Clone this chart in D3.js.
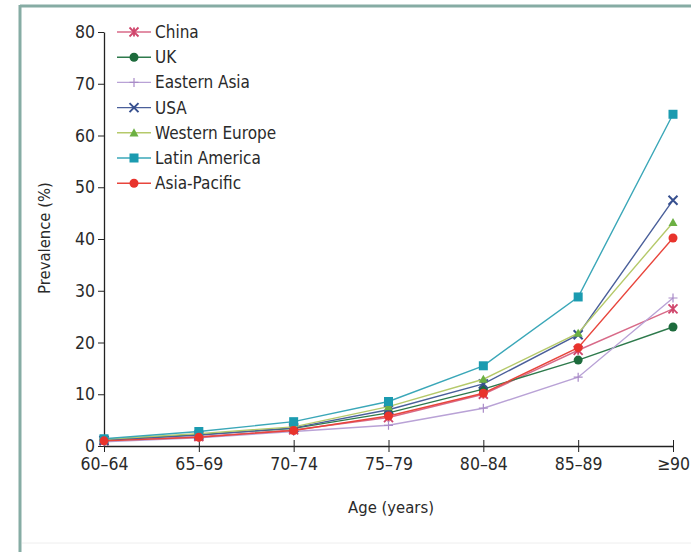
<!DOCTYPE html>
<html>
<head>
<meta charset="utf-8">
<script src="https://cdn.jsdelivr.net/npm/d3@7"></script>
<style>
  html, body { margin: 0; padding: 0; background: #fff; }
  svg { display: block; }
  text { font-family: "Liberation Sans Narrow", "DejaVu Sans Condensed", "Liberation Sans", sans-serif; fill: #2a2a2a; }
</style>
</head>
<body>
<svg id="chart" width="691" height="552"></svg>
<script>
// Age groups along the x axis
const ageGroups = ["60–64", "65–69", "70–74", "75–79", "80–84", "85–89", "≥90"];
const yTicks = [0, 10, 20, 30, 40, 50, 60, 70, 80];

// Dementia prevalence (%) by age group
const china         = [1.0, 1.8, 3.1, 5.5, 10.0, 18.5, 26.5];
const uk            = [1.2, 2.2, 3.4, 6.4, 11.0, 16.6, 23.0];
const easternAsia   = [0.8, 1.6, 2.8, 4.0, 7.3, 13.3, 28.6];
const usa           = [1.1, 2.1, 3.5, 7.0, 12.0, 21.5, 47.5];
const westernEurope = [1.3, 2.4, 3.7, 7.6, 12.9, 21.8, 43.2];
const latinAmerica  = [1.4, 2.8, 4.7, 8.6, 15.5, 28.8, 64.1];
const asiaPacific   = [1.0, 1.7, 3.0, 5.8, 10.2, 19.0, 40.2];

const seriesNames = ["China", "UK", "Eastern Asia", "USA", "Western Europe", "Latin America", "Asia-Pacific"];
const seriesValues = [china, uk, easternAsia, usa, westernEurope, latinAmerica, asiaPacific];
const seriesColors = ["#d0466c", "#1d6b3c", "#a98bc8", "#37508f", "#6cb043", "#1b9bb0", "#e8332c"];
const lineColors   = ["#d86a88", "#2e7a4c", "#b9a2d6", "#4a5f9a", "#b5c96a", "#3aa7b8", "#e8453c"];
const markerKinds  = ["asterisk", "circle", "plus", "cross", "triangle", "square", "circle"];

const svg = d3.select("#chart");

// outer frame
svg.append("line").attr("x1", 20).attr("x2", 20).attr("y1", 5).attr("y2", 552)
  .attr("stroke", "#86aca4").attr("stroke-width", 3);
svg.append("line").attr("x1", 20).attr("x2", 691).attr("y1", 6).attr("y2", 6)
  .attr("stroke", "#86aca4").attr("stroke-width", 3);
svg.append("line").attr("x1", 22).attr("x2", 691).attr("y1", 543).attr("y2", 543)
  .attr("stroke", "#eeeeee").attr("stroke-width", 1);

const x = d3.scalePoint().domain(ageGroups).range([104, 673]);
const y = d3.scaleLinear().domain([0, 80]).range([446, 32]);

// axes
const xAxis = d3.axisBottom(x).tickSizeInner(6).tickSizeOuter(0).tickPadding(6);
const gx = svg.append("g").attr("transform", "translate(0,446)").call(xAxis);
gx.select(".domain").attr("stroke", "#222").attr("stroke-width", 1.3);
gx.selectAll(".tick line").attr("stroke", "#222").attr("y1", -6).attr("y2", 6);
gx.selectAll("text").style("font-size", "17.5px").attr("fill", "#2a2a2a");

const yAxis = d3.axisLeft(y).tickValues(yTicks).tickSizeInner(6).tickSizeOuter(0).tickPadding(3);
const gy = svg.append("g").attr("transform", "translate(104,0)").call(yAxis);
gy.select(".domain").attr("stroke", "#222").attr("stroke-width", 1.3);
gy.selectAll(".tick line").attr("stroke", "#222");
gy.selectAll("text").style("font-size", "17.5px").attr("fill", "#2a2a2a");

// axis titles
svg.append("text").attr("x", 391).attr("y", 513).attr("text-anchor", "middle")
  .style("font-size", "16.5px").text("Age (years)");
svg.append("text").attr("transform", "translate(50,238) rotate(-90)")
  .attr("text-anchor", "middle").style("font-size", "16.5px").text("Prevalence (%)");

function drawMarker(g, kind, color, cx, cy) {
  const s = 4.5;
  if (kind === "circle") {
    g.append("circle").attr("cx", cx).attr("cy", cy).attr("r", s).attr("fill", color);
  } else if (kind === "square") {
    g.append("rect").attr("x", cx - s).attr("y", cy - s).attr("width", 2 * s).attr("height", 2 * s).attr("fill", color);
  } else if (kind === "triangle") {
    g.append("path").attr("d", `M${cx},${cy - s}L${cx + s},${cy + s * 0.8}L${cx - s},${cy + s * 0.8}Z`).attr("fill", color);
  } else if (kind === "plus") {
    g.append("path").attr("d", `M${cx - s},${cy}H${cx + s}M${cx},${cy - s}V${cy + s}`)
      .attr("stroke", color).attr("stroke-width", 1.2).attr("fill", "none");
  } else if (kind === "cross") {
    g.append("path").attr("d", `M${cx - s},${cy - s}L${cx + s},${cy + s}M${cx - s},${cy + s}L${cx + s},${cy - s}`)
      .attr("stroke", color).attr("stroke-width", 2).attr("fill", "none");
  } else if (kind === "asterisk") {
    g.append("path").attr("d", `M${cx - s},${cy - s}L${cx + s},${cy + s}M${cx - s},${cy + s}L${cx + s},${cy - s}M${cx},${cy - s}V${cy + s}`)
      .attr("stroke", color).attr("stroke-width", 1.8).attr("fill", "none");
  }
}

const line = d3.line().x((d, i) => x(ageGroups[i])).y(d => y(d));

seriesValues.forEach((vals, k) => {
  const g = svg.append("g");
  g.append("path").datum(vals).attr("d", line).attr("fill", "none")
    .attr("stroke", lineColors[k]).attr("stroke-width", 1.4);
  vals.forEach((v, i) => drawMarker(g, markerKinds[k], seriesColors[k], x(ageGroups[i]), y(v)));
});

// legend
const legend = svg.append("g");
seriesNames.forEach((name, k) => {
  const ly = 32 + k * 25.2;
  legend.append("line").attr("x1", 117).attr("x2", 151).attr("y1", ly).attr("y2", ly)
    .attr("stroke", lineColors[k]).attr("stroke-width", 1.4);
  drawMarker(legend, markerKinds[k], seriesColors[k], 134, ly);
  legend.append("text").attr("x", 155).attr("y", ly + 6).style("font-size", "17px").text(name);
});
</script>
</body>
</html>
